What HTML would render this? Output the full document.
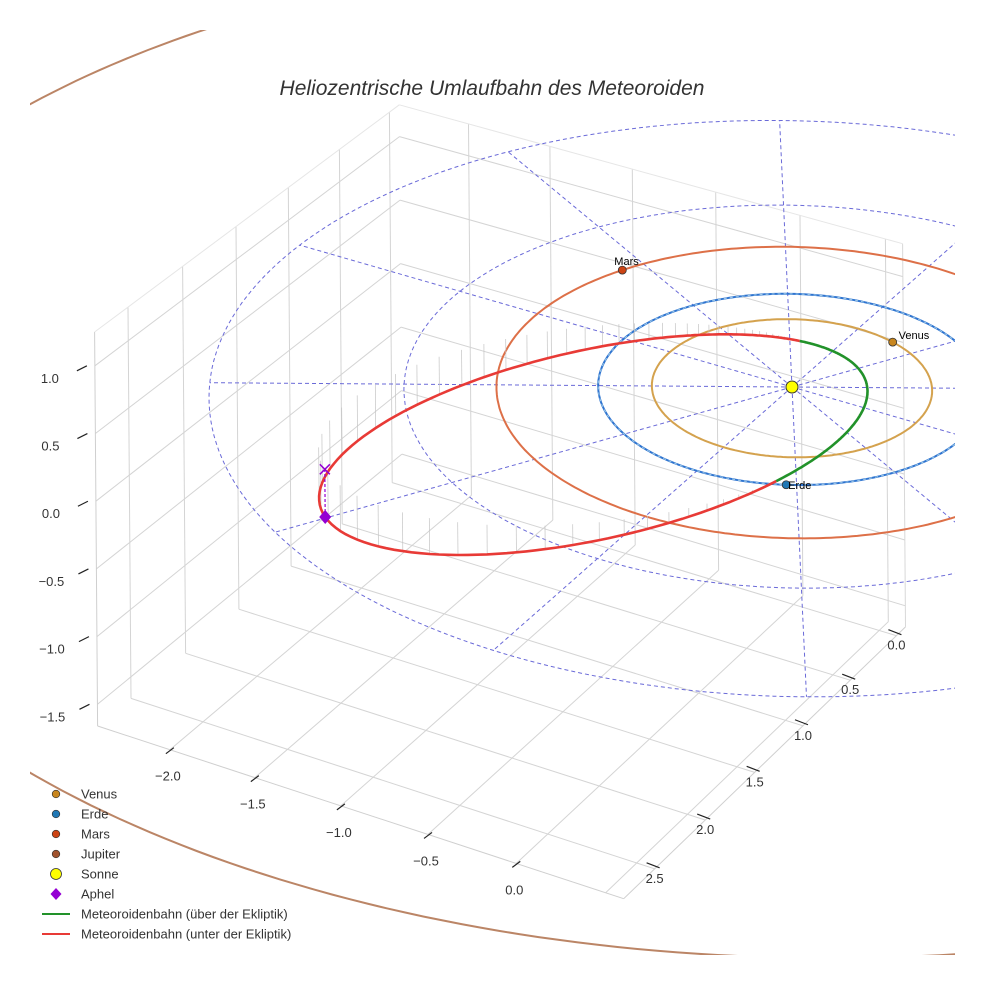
<!DOCTYPE html>
<html><head><meta charset="utf-8">
<style>
html,body{margin:0;padding:0;background:#fff;}
svg{display:block;font-family:"Liberation Sans",sans-serif;}
</style></head>
<body>
<svg id="chart" width="984" height="984" viewBox="0 0 984 984" xmlns="http://www.w3.org/2000/svg">
<defs><clipPath id="clip"><rect x="30" y="30" width="925" height="925"/></clipPath></defs>
<rect width="984" height="984" fill="#fff"/>
<text x="492" y="95" text-anchor="middle" font-size="21" font-style="italic" fill="#333">Heliozentrische Umlaufbahn des Meteoroiden</text>
<g id="grid"></g>
<g id="ticks"></g>
<g id="scene" clip-path="url(#clip)"></g>
<g id="legend"></g>
</svg>
<script>
// ---- data ----
const xTicks = [-2.0, -1.5, -1.0, -0.5, 0.0];
const yTicks = [0.0, 0.5, 1.0, 1.5, 2.0, 2.5];
const zTicks = [-1.5, -1.0, -0.5, 0.0, 0.5, 1.0];
const xRange = [-2.43, 0.6];
const yRange = [-0.1, 2.8];
const zRange = [-1.66, 1.25];
const planetNames = ["Venus", "Erde", "Mars", "Jupiter"];
const planetRadii = [0.723, 1.0, 1.524, 5.2];
const planetAngles = [-72, 63, 205, 20];
const gridCircleRadii = [1, 2, 3];
const radialAngles = [0, 30, 60, 90, 120, 150, 180, 210, 240, 270, 300, 330];
const orbitP = [0.652];       // semi-latus rectum (AU)
const orbitE = [0.745];       // eccentricity
const orbitI = [8.9];         // inclination (deg)
const orbitNode = [66];       // longitude of descending node (deg)
const orbitNodeAnomaly = [116]; // true anomaly at node (deg)

const NS = "http://www.w3.org/2000/svg";
function P(x, y, z) {
  const kd = 0.012 * x + 0.022 * y;
  const f = 1 / (1 - kd);
  return [792 + (170 * x - 93 * y - z) * f, 387 + (49 * x + 82 * y - 131 * z) * f];
}
function mk(parent, tag, attrs) {
  const e = document.createElementNS(NS, tag);
  for (const k in attrs) e.setAttribute(k, attrs[k]);
  parent.appendChild(e);
  return e;
}
function pathOf(pts) { return pts.map((p, i) => (i ? "L" : "M") + p[0].toFixed(1) + " " + p[1].toFixed(1)).join(""); }
const rad = d => d * Math.PI / 180;

// ---- box grid ----
const grid = document.getElementById("grid");
const [x0, x1] = xRange, [y0, y1] = yRange, [z0, z1] = zRange;
function gl(a, b, col, w) {
  const e = mk(grid, "path", { d: pathOf([a, b]), stroke: col || "#d4d4d4", "stroke-width": w || 1, fill: "none" });
  
  
}
const xg = [-2.0, -1.5, -1.0, -0.5, 0.0, 0.5];
xg.forEach(x => { gl(P(x, y0, z0), P(x, y1, z0)); gl(P(x, y0, z0), P(x, y0, z1)); });
yTicks.forEach(y => { gl(P(x0, y, z0), P(x1, y, z0)); gl(P(x0, y, z0), P(x0, y, z1)); });
zTicks.forEach(z => { gl(P(x0, y0, z), P(x0, y1, z)); gl(P(x0, y0, z), P(x1, y0, z)); });
gl(P(x0, y1, z0), P(x1, y1, z0), "#cfcfcf");
gl(P(x1, y1, z0), P(x1, y0, z0), "#cfcfcf");
gl(P(x0, y1, z0), P(x0, y1, z1), "#cfcfcf");
gl(P(x0, y1, z1), P(x0, y0, z1), "#e6e6e6");
gl(P(x0, y0, z1), P(x1, y0, z1), "#e6e6e6");
gl(P(x1, y0, z0), P(x1, y0, z1), "#d8d8d8");

// ---- ticks ----
const ticks = document.getElementById("ticks");
function tick(p, dx, dy, label, ox, oy, name) {
  const t = mk(ticks, "path", { d: `M${p[0]} ${p[1]}l${dx} ${dy}`, stroke: "#222", "stroke-width": 1.2 });
  
  
  const tx = mk(ticks, "text", { x: p[0] + ox, y: p[1] + oy, "text-anchor": "middle", "font-size": 13, fill: "#333" });
  tx.textContent = label;
  
  
}
const fmt = v => (v < 0 ? "\u2212" : "") + Math.abs(v).toFixed(1);
xTicks.forEach(x => { const p = P(x, y1, z0); tick([p[0] + 4, p[1] - 2], -8, 6, fmt(x), -6, 33, "x-axis"); });
yTicks.forEach(y => { const p = P(x1, y, z0); tick([p[0] - 8, p[1] - 6], 13, 5, fmt(y), 8, 20, "y-axis"); });
zTicks.forEach(z => { const p = P(x0, y1, z); tick([p[0] - 8, p[1]], -10, 5, fmt(z), -37, 17, "z-axis"); });

// ---- scene ----
const scene = document.getElementById("scene");
function circlePts(r, n) {
  const pts = [];
  for (let i = 0; i <= n; i++) { const a = 2 * Math.PI * i / n; pts.push(P(r * Math.cos(a), r * Math.sin(a), 0)); }
  return pts;
}
gridCircleRadii.forEach(r => {
  const e = mk(scene, "path", { d: pathOf(circlePts(r, 240)), stroke: "#6a6ad8", "stroke-width": 1, "stroke-dasharray": "4 3", fill: "none" });
  
  
});
radialAngles.forEach(a => {
  const r = gridCircleRadii[gridCircleRadii.length - 1];
  const e = mk(scene, "path", { d: pathOf([P(0, 0, 0), P(r * Math.cos(rad(a)), r * Math.sin(rad(a)), 0)]), stroke: "#6a6ad8", "stroke-width": 1, "stroke-dasharray": "4 3", fill: "none" });
  
  
});
const orbitCols = ["#d4a24e", "#2f74d0", "#dd7048", "#bb8566"];
const markerCols = ["#c8861e", "#1f77b4", "#cc4414", "#a0522d"];
planetRadii.forEach((r, i) => {
  const e = mk(scene, "path", { d: pathOf(circlePts(r, 360)), stroke: orbitCols[i], "stroke-width": 2, fill: "none" });
  
  
  if (i === 1) {
    const d = mk(scene, "path", { d: pathOf(circlePts(r, 360)), stroke: "#9fcbe8", "stroke-width": 1, "stroke-dasharray": "3 3", fill: "none" });
    
    
  }
});

// meteoroid orbit
function orbitPoint(u) {
  const p = orbitP[0], e = orbitE[0], inc = rad(orbitI[0]), om = rad(orbitNode[0]);
  const r = p / (1 + e * Math.cos(rad(u + orbitNodeAnomaly[0])));
  const cu = Math.cos(rad(u)), su = Math.sin(rad(u));
  const x = r * (cu * Math.cos(om) - su * Math.cos(inc) * Math.sin(om));
  const y = r * (cu * Math.sin(om) + su * Math.cos(inc) * Math.cos(om));
  const z = -r * su * Math.sin(inc);
  return [x, y, z];
}
for (let u = 3; u < 180; u += 3) {
  const q = orbitPoint(u);
  const a = P(q[0], q[1], q[2]), b = P(q[0], q[1], 0);
  const e = mk(scene, "path", { d: pathOf([a, b]), stroke: "#c4c4c4", "stroke-width": 0.7, fill: "none" });
  
  
}
const below = [], above = [];
for (let u = 0; u <= 180; u += 1) { const q = orbitPoint(u); below.push(P(q[0], q[1], q[2])); }
for (let u = 180; u <= 360; u += 1) { const q = orbitPoint(u); above.push(P(q[0], q[1], q[2])); }
let e1 = mk(scene, "path", { d: pathOf(below), stroke: "#e83a36", "stroke-width": 2.6, fill: "none" });


let e2 = mk(scene, "path", { d: pathOf(above), stroke: "#22922a", "stroke-width": 2.6, fill: "none" });



// aphelion
const uA = 180 - orbitNodeAnomaly[0];
const aq = orbitPoint(uA);
const ap = P(aq[0], aq[1], aq[2]), ap0 = P(aq[0], aq[1], 0);
let ad = mk(scene, "path", { d: pathOf([ap, ap0]), stroke: "#9400d3", "stroke-width": 1.2, "stroke-dasharray": "3 2", fill: "none" });


let ax = mk(scene, "path", { d: `M${ap0[0] - 5} ${ap0[1] - 5}l10 10M${ap0[0] + 5} ${ap0[1] - 5}l-10 10`, stroke: "#9400d3", "stroke-width": 1.5, fill: "none" });


let am = mk(scene, "path", { d: `M${ap[0]} ${ap[1] - 7}l6 7l-6 7l-6 -7z`, fill: "#9400d3" });



// sun
const sp = P(0, 0, 0);
let sun = mk(scene, "circle", { cx: sp[0], cy: sp[1], r: 6, fill: "#ffff00", stroke: "#333", "stroke-width": 1 });



// planets
const labelOff = [[6, -3], [2, 4], [-8, -5], [6, -3]];
planetRadii.forEach((r, i) => {
  const p = P(r * Math.cos(rad(planetAngles[i])), r * Math.sin(rad(planetAngles[i])), 0);
  const c = mk(scene, "circle", { cx: p[0], cy: p[1], r: 4, fill: markerCols[i], stroke: "#333", "stroke-width": 0.8 });
  
  
  const t = mk(scene, "text", { x: p[0] + labelOff[i][0], y: p[1] + labelOff[i][1], "font-size": 11, fill: "#000" });
  t.textContent = planetNames[i];
  
  
});

// ---- legend ----
const legend = document.getElementById("legend");
const legendLabels = ["Venus", "Erde", "Mars", "Jupiter", "Sonne", "Aphel", "Meteoroidenbahn (über der Ekliptik)", "Meteoroidenbahn (unter der Ekliptik)"];
legendLabels.forEach((lab, i) => {
  const y = 794 + i * 20;
  let m;
  if (i < 4) m = mk(legend, "circle", { cx: 56, cy: y, r: 3.8, fill: markerCols[i], stroke: "#333", "stroke-width": 0.7 });
  else if (i === 4) m = mk(legend, "circle", { cx: 56, cy: y, r: 5.5, fill: "#ffff00", stroke: "#333", "stroke-width": 0.8 });
  else if (i === 5) m = mk(legend, "path", { d: `M56 ${y - 6}l5.5 6l-5.5 6l-5.5 -6z`, fill: "#9400d3" });
  else m = mk(legend, "path", { d: `M42 ${y}h28`, stroke: i === 6 ? "#22922a" : "#e83a36", "stroke-width": 2 });
  
  
  const t = mk(legend, "text", { x: 81, y: y + 4.5, "font-size": 13, fill: "#333" });
  t.textContent = lab;
  
  
});
</script>
</body></html>
